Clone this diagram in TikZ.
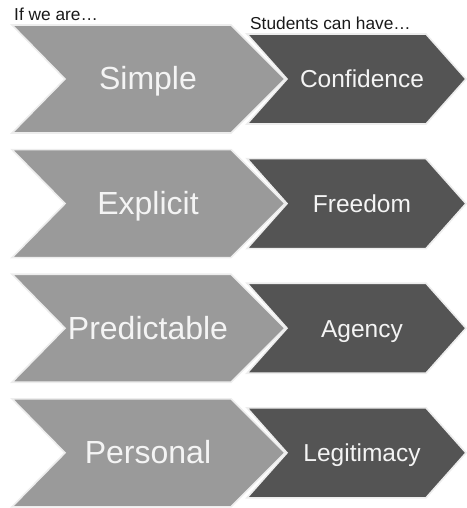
\documentclass[tikz,border=0pt]{standalone}
\usepackage{fontspec}
\setmainfont{Liberation Sans}
\definecolor{bigfill}{HTML}{9A9A9A}
\definecolor{smallfill}{HTML}{545454}
\definecolor{edgecol}{HTML}{EDEDED}
\definecolor{txtcol}{HTML}{F4F4F4}
\tikzset{
  bigchev/.style={fill=bigfill,draw=edgecol,line width=1.6pt,line join=miter},
  smallchev/.style={fill=smallfill,draw=edgecol,line width=1.6pt,line join=miter},
  bigtext/.style={text=txtcol,inner sep=0pt,anchor=base,font=\fontsize{32}{38}\selectfont},
  smalltext/.style={text=txtcol,inner sep=0pt,anchor=base,font=\fontsize{24.5}{29}\selectfont},
  headtext/.style={text=black!90,inner sep=0pt,anchor=base west,font=\fontsize{17.3}{20}\selectfont}
}
\begin{document}
\begin{tikzpicture}[x=1pt,y=-1pt]
\useasboundingbox (0,0) rectangle (466,508);
\node[headtext] (hl) at (14,21) {If we are…};
\node[headtext] (hr) at (250,29.5) {Students can have…};
\foreach \i/\bt/\st in {0/Simple/Confidence,1/Explicit/Freedom,2/Predictable/Agency,3/Personal/Legitimacy}{
  \pgfmathsetmacro{\c}{79+124.6*\i}
  \path[smallchev] (247,\c-45) -- (426,\c-45) -- (466,\c) -- (426,\c+45) -- (247,\c+45) -- (287,\c) -- cycle;
  \path[bigchev] (12,\c-54) -- (231,\c-54) -- (285,\c) -- (231,\c+54) -- (12,\c+54) -- (65,\c) -- cycle;
  \node[bigtext] (b\i) at (148,\c+11) {\bt};
  \node[smalltext] (s\i) at (362,\c+8.8) {\st};
}
\end{tikzpicture}
\end{document}
